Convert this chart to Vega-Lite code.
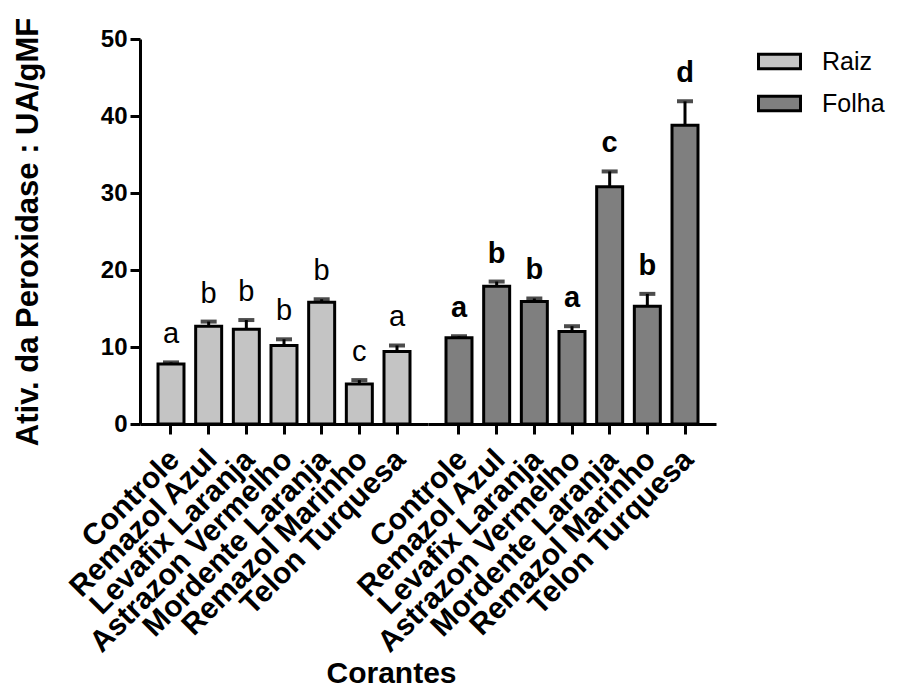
{
  "$schema": "https://vega.github.io/schema/vega-lite/v6.json",
  "background": "white",
  "padding": {"left": 12, "top": 17, "right": 2, "bottom": 2},
  "bounds": "flush",
  "spacing": 0,
  "config": {
    "font": "Liberation Sans",
    "view": {"stroke": null},
    "axis": {
      "domainColor": "black", "domainWidth": 3, "tickColor": "black", "tickWidth": 3, "tickSize": 10,
      "labelColor": "black", "titleColor": "black", "labelFont": "Liberation Sans", "titleFont": "Liberation Sans",
      "labelFontWeight": "bold", "titleFontWeight": "bold", "grid": false
    }
  },
  "datasets": {
    "d": [
      {"parte": "Raiz", "corante": "Controle", "media": 7.8, "superior": 8.0, "letra": "a"},
      {"parte": "Raiz", "corante": "Remazol Azul", "media": 12.7, "superior": 13.3, "letra": "b"},
      {"parte": "Raiz", "corante": "Levafix Laranja", "media": 12.3, "superior": 13.5, "letra": "b"},
      {"parte": "Raiz", "corante": "Astrazon Vermelho", "media": 10.2, "superior": 11.0, "letra": "b"},
      {"parte": "Raiz", "corante": "Mordente Laranja", "media": 15.8, "superior": 16.2, "letra": "b"},
      {"parte": "Raiz", "corante": "Remazol Marinho", "media": 5.2, "superior": 5.7, "letra": "c"},
      {"parte": "Raiz", "corante": "Telon Turquesa", "media": 9.4, "superior": 10.2, "letra": "a"},
      {"parte": "Folha", "corante": "Controle", "media": 11.2, "superior": 11.4, "letra": "a"},
      {"parte": "Folha", "corante": "Remazol Azul", "media": 17.9, "superior": 18.5, "letra": "b"},
      {"parte": "Folha", "corante": "Levafix Laranja", "media": 15.9, "superior": 16.3, "letra": "b"},
      {"parte": "Folha", "corante": "Astrazon Vermelho", "media": 12.0, "superior": 12.7, "letra": "a"},
      {"parte": "Folha", "corante": "Mordente Laranja", "media": 30.8, "superior": 32.8, "letra": "c"},
      {"parte": "Folha", "corante": "Remazol Marinho", "media": 15.3, "superior": 16.9, "letra": "b"},
      {"parte": "Folha", "corante": "Telon Turquesa", "media": 38.8, "superior": 41.9, "letra": "d"}
    ]
  },
  "hconcat": [
    {
      "width": 288, "height": 385,
      "data": {"name": "d"},
      "transform": [{"filter": "datum.parte === 'Raiz'"}],
      "encoding": {
        "x": {"field": "corante", "type": "nominal", "sort": null,
          "scale": {"paddingInner": 0.31, "paddingOuter": 0.478},
          "axis": {"title": "Corantes", "titleFontSize": 30, "titleX": 251, "titleY": 258, "titleBaseline": "alphabetic", "titleAnchor": null,
            "labelAngle": -45, "labelAlign": "right", "labelBaseline": "top", "labelFontSize": 30, "labelPadding": 10, "labelOffset": -7,
            "labelOverlap": false, "labelBound": false, "labelLimit": 0}}
      },
      "layer": [
        {"mark": {"type": "bar", "stroke": "black", "strokeWidth": 3},
         "encoding": {
           "y": {"field": "media", "type": "quantitative", "title": "Ativ. da Peroxidase : UA/gMF",
             "scale": {"domain": [0, 50], "nice": false},
             "axis": {"values": [0, 10, 20, 30, 40, 50], "labelFontSize": 24, "labelPadding": 3, "titleFontSize": 31, "titlePadding": 56}},
           "fill": {"field": "parte", "type": "nominal",
             "scale": {"domain": ["Raiz", "Folha"], "range": ["#c4c4c4", "#7f7f7f"]},
             "legend": {"title": null, "orient": "none", "legendX": 617, "legendY": 0,
               "symbolType": "M-1,-0.35H1V0.35H-1Z", "symbolSize": 1764, "symbolStrokeColor": "black", "symbolStrokeWidth": 3,
               "labelFontSize": 25, "labelFont": "Liberation Sans", "labelColor": "black", "rowPadding": 6, "labelOffset": 20}}
         }},
        {"mark": {"type": "rule", "strokeWidth": 3, "color": "black"},
         "encoding": {"y": {"field": "media", "type": "quantitative", "title": "Ativ. da Peroxidase : UA/gMF"}, "y2": {"field": "superior"}}},
        {"mark": {"type": "tick", "thickness": 4, "size": 16, "color": "black"},
         "encoding": {"y": {"field": "superior", "type": "quantitative", "title": "Ativ. da Peroxidase : UA/gMF"}}},
        {"mark": {"type": "text", "dy": -19, "baseline": "alphabetic", "fontSize": 29, "fontWeight": "normal", "color": "black"},
         "encoding": {"y": {"field": "superior", "type": "quantitative", "title": "Ativ. da Peroxidase : UA/gMF"}, "text": {"field": "letra"}}}
      ]
    },
    {
      "width": 288, "height": 385,
      "data": {"name": "d"},
      "transform": [{"filter": "datum.parte === 'Folha'"}],
      "encoding": {
        "x": {"field": "corante", "type": "nominal", "sort": null,
          "scale": {"paddingInner": 0.31, "paddingOuter": 0.478},
          "axis": {"title": null,
            "labelAngle": -45, "labelAlign": "right", "labelBaseline": "top", "labelFontSize": 30, "labelPadding": 10, "labelOffset": -7,
            "labelOverlap": false, "labelBound": false, "labelLimit": 0}}
      },
      "layer": [
        {"mark": {"type": "bar", "stroke": "black", "strokeWidth": 3},
         "encoding": {
           "y": {"field": "media", "type": "quantitative", "scale": {"domain": [0, 50], "nice": false}, "axis": null},
           "fill": {"field": "parte", "type": "nominal"}
         }},
        {"mark": {"type": "rule", "strokeWidth": 3, "color": "black"},
         "encoding": {"y": {"field": "media", "type": "quantitative", "axis": null}, "y2": {"field": "superior"}}},
        {"mark": {"type": "tick", "thickness": 4, "size": 16, "color": "black"},
         "encoding": {"y": {"field": "superior", "type": "quantitative", "axis": null}}},
        {"mark": {"type": "text", "dy": -19, "baseline": "alphabetic", "fontSize": 29, "fontWeight": "bold", "color": "black"},
         "encoding": {"y": {"field": "superior", "type": "quantitative", "axis": null}, "text": {"field": "letra"}}}
      ]
    }
  ],
  "resolve": {"scale": {"color": "shared", "y": "independent", "x": "independent"}, "legend": {"color": "shared"}}
}
